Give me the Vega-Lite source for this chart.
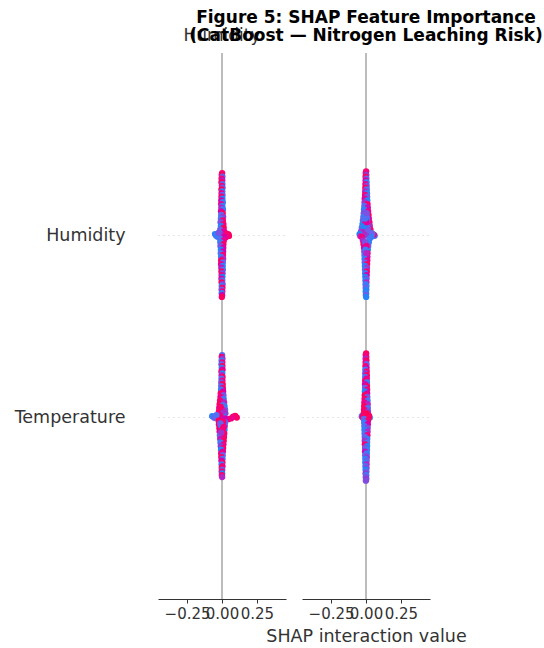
{
  "$schema": "https://vega.github.io/schema/vega-lite/v6.json",
  "padding": {"left": 14, "top": 8, "right": 5, "bottom": 5},
  "config": {"font": "DejaVu Sans", "view": {"stroke": null}},
  "spacing": 16,
  "bounds": "flush",
  "datasets": {
    "hum": [
      {"y":1.34,"x":0.001,"v":0.92},{"y":1.33,"x":-0.002,"v":0.97},{"y":1.32,"x":0.003,"v":0.35},{"y":1.31,"x":-0.003,"v":0.88},
      {"y":1.30,"x":0.002,"v":0.62},{"y":1.29,"x":-0.004,"v":0.95},{"y":1.28,"x":0.003,"v":0.22},{"y":1.27,"x":-0.001,"v":0.86},
      {"y":1.26,"x":0.004,"v":0.4},{"y":1.25,"x":-0.004,"v":0.98},{"y":1.24,"x":0.002,"v":0.12},{"y":1.23,"x":-0.003,"v":0.78},
      {"y":1.22,"x":0.004,"v":0.3},{"y":1.21,"x":-0.004,"v":0.91},{"y":1.20,"x":0.003,"v":0.06},{"y":1.19,"x":-0.005,"v":0.68},
      {"y":1.18,"x":0.006,"v":0.16},{"y":1.17,"x":-0.006,"v":0.83},{"y":1.16,"x":0.003,"v":0.09},{"y":1.15,"x":-0.005,"v":0.57},
      {"y":1.14,"x":0.007,"v":0.14},{"y":1.13,"x":-0.007,"v":0.72},{"y":1.12,"x":0.005,"v":0.96},{"y":1.11,"x":-0.006,"v":0.26},
      {"y":1.10,"x":0.008,"v":0.52},{"y":1.09,"x":-0.008,"v":0.19},{"y":1.08,"x":0.006,"v":0.9},{"y":1.07,"x":-0.01,"v":0.42},
      {"y":1.06,"x":0.01,"v":0.87},{"y":1.05,"x":-0.008,"v":0.08},{"y":1.04,"x":0.012,"v":0.94},{"y":1.03,"x":-0.013,"v":0.32},
      {"y":1.02,"x":0.015,"v":0.77},{"y":1.01,"x":-0.016,"v":0.18},{"y":1.00,"x":0.002,"v":0.6},
      {"y":1.005,"x":-0.05,"v":0.05},{"y":0.997,"x":-0.043,"v":0.15},{"y":1.003,"x":0.046,"v":0.98},{"y":0.995,"x":0.05,"v":0.95},
      {"y":1.008,"x":0.034,"v":0.9},{"y":0.99,"x":-0.032,"v":0.1},{"y":1.012,"x":-0.025,"v":0.4},{"y":0.988,"x":0.028,"v":0.85},
      {"y":0.99,"x":0.016,"v":0.7},{"y":0.98,"x":-0.014,"v":0.23},{"y":0.97,"x":0.013,"v":0.81},{"y":0.96,"x":-0.012,"v":0.13},
      {"y":0.95,"x":0.01,"v":0.93},{"y":0.94,"x":-0.011,"v":0.37},{"y":0.93,"x":0.009,"v":0.74},{"y":0.92,"x":-0.008,"v":0.05},
      {"y":0.91,"x":0.008,"v":0.66},{"y":0.90,"x":-0.009,"v":0.21},{"y":0.89,"x":0.007,"v":0.89},{"y":0.88,"x":-0.007,"v":0.11},
      {"y":0.87,"x":0.008,"v":0.58},{"y":0.86,"x":-0.006,"v":0.97},{"y":0.85,"x":0.006,"v":0.29},{"y":0.84,"x":-0.007,"v":0.8},
      {"y":0.83,"x":0.005,"v":0.07},{"y":0.82,"x":-0.005,"v":0.64},{"y":0.81,"x":0.006,"v":0.17},{"y":0.80,"x":-0.004,"v":0.92},
      {"y":0.79,"x":0.004,"v":0.44},{"y":0.78,"x":-0.003,"v":0.85},{"y":0.77,"x":0.003,"v":0.03},{"y":0.76,"x":-0.004,"v":0.71},
      {"y":0.75,"x":0.002,"v":0.24},{"y":0.74,"x":-0.003,"v":0.96},{"y":0.73,"x":0.004,"v":0.48},{"y":0.72,"x":-0.002,"v":0.13},
      {"y":0.71,"x":0.003,"v":0.9},{"y":0.70,"x":-0.003,"v":0.36},{"y":0.69,"x":0.002,"v":0.82},{"y":0.68,"x":-0.002,"v":0.1},
      {"y":0.67,"x":0.001,"v":0.67},{"y":0.66,"x":-0.001,"v":0.94},

      {"y":0.34,"x":0.001,"v":0.2},{"y":0.33,"x":-0.002,"v":0.9},{"y":0.32,"x":0.003,"v":0.55},{"y":0.31,"x":-0.003,"v":0.15},
      {"y":0.30,"x":0.002,"v":0.85},{"y":0.29,"x":-0.004,"v":0.35},{"y":0.28,"x":0.003,"v":0.95},{"y":0.27,"x":-0.002,"v":0.1},
      {"y":0.26,"x":0.004,"v":0.72},{"y":0.25,"x":-0.004,"v":0.88},{"y":0.24,"x":0.002,"v":0.05},{"y":0.23,"x":-0.003,"v":0.6},
      {"y":0.22,"x":0.004,"v":0.92},{"y":0.21,"x":-0.004,"v":0.25},{"y":0.20,"x":0.003,"v":0.8},{"y":0.19,"x":-0.005,"v":0.45},
      {"y":0.18,"x":0.005,"v":0.98},{"y":0.17,"x":-0.006,"v":0.3},{"y":0.16,"x":0.006,"v":0.86},{"y":0.15,"x":-0.007,"v":0.12},
      {"y":0.14,"x":0.008,"v":0.7},{"y":0.13,"x":-0.009,"v":0.93},{"y":0.12,"x":0.01,"v":0.4},{"y":0.11,"x":-0.011,"v":0.82},
      {"y":0.10,"x":0.012,"v":0.18},{"y":0.09,"x":-0.014,"v":0.9},{"y":0.08,"x":0.015,"v":0.6},{"y":0.07,"x":-0.017,"v":0.95},
      {"y":0.06,"x":0.018,"v":0.08},{"y":0.05,"x":-0.02,"v":0.76},{"y":0.04,"x":0.022,"v":0.33},{"y":0.03,"x":-0.022,"v":0.91},
      {"y":0.02,"x":0.024,"v":0.5},{"y":0.01,"x":-0.025,"v":0.87},{"y":0.00,"x":0.003,"v":0.65},
      {"y":0.065,"x":0.006,"v":0.22},{"y":0.045,"x":-0.006,"v":0.97},{"y":0.025,"x":0.01,"v":0.14},{"y":0.015,"x":-0.012,"v":0.84},
      {"y":0.035,"x":0.012,"v":0.58},{"y":0.055,"x":-0.01,"v":0.92},
      {"y":0.004,"x":-0.07,"v":0.08},{"y":-0.004,"x":-0.055,"v":0.3},{"y":0.006,"x":0.095,"v":0.96},{"y":-0.003,"x":0.106,"v":0.92},
      {"y":0.002,"x":0.08,"v":0.88},{"y":-0.008,"x":0.065,"v":0.8},{"y":0.01,"x":-0.04,"v":0.2},{"y":-0.012,"x":0.045,"v":0.9},
      {"y":-0.01,"x":0.024,"v":0.7},{"y":-0.02,"x":-0.024,"v":0.95},{"y":-0.03,"x":0.022,"v":0.2},{"y":-0.04,"x":-0.022,"v":0.85},
      {"y":-0.05,"x":0.02,"v":0.42},{"y":-0.06,"x":-0.019,"v":0.9},{"y":-0.07,"x":0.018,"v":0.1},{"y":-0.08,"x":-0.017,"v":0.78},
      {"y":-0.09,"x":0.016,"v":0.93},{"y":-0.10,"x":-0.015,"v":0.27},{"y":-0.11,"x":0.014,"v":0.88},{"y":-0.12,"x":-0.013,"v":0.62},
      {"y":-0.13,"x":0.012,"v":0.97},{"y":-0.14,"x":-0.011,"v":0.15},{"y":-0.15,"x":0.01,"v":0.82},{"y":-0.16,"x":-0.009,"v":0.5},
      {"y":-0.17,"x":0.008,"v":0.91},{"y":-0.18,"x":-0.007,"v":0.06},{"y":-0.19,"x":0.006,"v":0.74},{"y":-0.20,"x":-0.006,"v":0.86},
      {"y":-0.21,"x":0.005,"v":0.35},{"y":-0.22,"x":-0.005,"v":0.94},{"y":-0.23,"x":0.004,"v":0.2},{"y":-0.24,"x":-0.004,"v":0.68},
      {"y":-0.25,"x":0.003,"v":0.9},{"y":-0.26,"x":-0.003,"v":0.12},{"y":-0.27,"x":0.003,"v":0.8},{"y":-0.28,"x":-0.002,"v":0.96},
      {"y":-0.29,"x":0.002,"v":0.4},{"y":-0.30,"x":-0.002,"v":0.87},{"y":-0.31,"x":0.001,"v":0.05},{"y":-0.32,"x":-0.001,"v":0.92},
      {"y":-0.33,"x":0.001,"v":0.6},
      {"y":-0.025,"x":0.008,"v":0.9},{"y":-0.045,"x":-0.008,"v":0.18},{"y":-0.065,"x":0.006,"v":0.94},{"y":-0.085,"x":-0.005,"v":0.55},
      {"y":-0.035,"x":-0.012,"v":0.3},{"y":-0.055,"x":0.012,"v":0.86}
    ],
    "temp": [
      {"y":1.35,"x":0.001,"v":0.9},{"y":1.34,"x":-0.002,"v":0.85},{"y":1.33,"x":0.002,"v":0.5},{"y":1.32,"x":-0.003,"v":0.95},
      {"y":1.31,"x":0.003,"v":0.3},{"y":1.30,"x":-0.003,"v":0.7},{"y":1.29,"x":0.004,"v":0.15},{"y":1.28,"x":-0.004,"v":0.8},
      {"y":1.27,"x":0.005,"v":0.45},{"y":1.26,"x":-0.005,"v":0.92},{"y":1.25,"x":0.006,"v":0.2},{"y":1.24,"x":-0.006,"v":0.6},
      {"y":1.23,"x":0.007,"v":0.1},{"y":1.22,"x":-0.007,"v":0.88},{"y":1.21,"x":0.008,"v":0.35},{"y":1.20,"x":-0.009,"v":0.75},
      {"y":1.19,"x":0.009,"v":0.05},{"y":1.18,"x":-0.01,"v":0.55},{"y":1.17,"x":0.011,"v":0.9},{"y":1.16,"x":-0.012,"v":0.25},
      {"y":1.15,"x":0.013,"v":0.65},{"y":1.14,"x":-0.014,"v":0.12},{"y":1.13,"x":0.015,"v":0.82},{"y":1.12,"x":-0.016,"v":0.4},
      {"y":1.11,"x":0.018,"v":0.95},{"y":1.10,"x":-0.019,"v":0.18},{"y":1.09,"x":0.02,"v":0.7},{"y":1.08,"x":-0.022,"v":0.3},
      {"y":1.07,"x":0.024,"v":0.87},{"y":1.06,"x":-0.025,"v":0.08},{"y":1.05,"x":0.027,"v":0.6},{"y":1.04,"x":-0.03,"v":0.22},
      {"y":1.03,"x":0.032,"v":0.9},{"y":1.02,"x":-0.035,"v":0.45},{"y":1.01,"x":0.038,"v":0.1},{"y":1.00,"x":0.002,"v":0.5},
      {"y":1.10,"x":0.006,"v":0.3},{"y":1.08,"x":0.008,"v":0.1},{"y":1.06,"x":-0.008,"v":0.9},{"y":1.04,"x":0.01,"v":0.15},
      {"y":1.02,"x":-0.012,"v":0.6},{"y":1.03,"x":0.014,"v":0.35},{"y":1.05,"x":-0.015,"v":0.05},{"y":1.07,"x":0.004,"v":0.75},
      {"y":1.09,"x":-0.006,"v":0.2},{"y":1.12,"x":0.005,"v":0.4},
      {"y":1.005,"x":-0.046,"v":0.05},{"y":0.996,"x":0.062,"v":0.2},{"y":1.002,"x":0.055,"v":0.92},{"y":0.993,"x":-0.04,"v":0.6},
      {"y":1.008,"x":0.045,"v":0.3},{"y":0.99,"x":0.04,"v":0.12},
      {"y":0.99,"x":-0.03,"v":0.85},{"y":0.98,"x":0.026,"v":0.15},{"y":0.97,"x":-0.022,"v":0.6},{"y":0.96,"x":0.02,"v":0.1},
      {"y":0.95,"x":-0.018,"v":0.92},{"y":0.94,"x":0.016,"v":0.3},{"y":0.93,"x":-0.014,"v":0.7},{"y":0.92,"x":0.013,"v":0.05},
      {"y":0.91,"x":-0.012,"v":0.5},{"y":0.90,"x":0.011,"v":0.88},{"y":0.89,"x":-0.011,"v":0.2},{"y":0.88,"x":0.01,"v":0.65},
      {"y":0.87,"x":-0.01,"v":0.12},{"y":0.86,"x":0.009,"v":0.8},{"y":0.85,"x":-0.009,"v":0.35},{"y":0.84,"x":0.008,"v":0.95},
      {"y":0.83,"x":-0.008,"v":0.08},{"y":0.82,"x":0.007,"v":0.55},{"y":0.81,"x":-0.007,"v":0.25},{"y":0.80,"x":0.006,"v":0.9},
      {"y":0.79,"x":-0.006,"v":0.15},{"y":0.78,"x":0.005,"v":0.7},{"y":0.77,"x":-0.005,"v":0.05},{"y":0.76,"x":0.004,"v":0.42},
      {"y":0.75,"x":-0.004,"v":0.1},{"y":0.74,"x":0.003,"v":0.6},{"y":0.73,"x":-0.003,"v":0.2},{"y":0.72,"x":0.003,"v":0.08},
      {"y":0.71,"x":-0.002,"v":0.3},{"y":0.70,"x":0.002,"v":0.1},{"y":0.69,"x":-0.002,"v":0.04},{"y":0.68,"x":0.001,"v":0.12},
      {"y":0.67,"x":-0.001,"v":0.35},{"y":0.66,"x":0.001,"v":0.06},
      {"y":0.96,"x":-0.006,"v":0.4},{"y":0.94,"x":0.004,"v":0.8},{"y":0.92,"x":-0.004,"v":0.15},{"y":0.90,"x":0.003,"v":0.6},

      {"y":0.35,"x":0.001,"v":0.95},{"y":0.34,"x":-0.002,"v":0.9},{"y":0.33,"x":0.002,"v":0.85},{"y":0.32,"x":-0.003,"v":0.6},
      {"y":0.31,"x":0.003,"v":0.98},{"y":0.30,"x":-0.003,"v":0.8},{"y":0.29,"x":0.004,"v":0.3},{"y":0.28,"x":-0.004,"v":0.92},
      {"y":0.27,"x":0.004,"v":0.7},{"y":0.26,"x":-0.005,"v":0.15},{"y":0.25,"x":0.005,"v":0.88},{"y":0.24,"x":-0.005,"v":0.5},
      {"y":0.23,"x":0.006,"v":0.95},{"y":0.22,"x":-0.006,"v":0.2},{"y":0.21,"x":0.006,"v":0.78},{"y":0.20,"x":-0.006,"v":0.9},
      {"y":0.19,"x":0.007,"v":0.1},{"y":0.18,"x":-0.007,"v":0.65},{"y":0.17,"x":0.007,"v":0.93},{"y":0.16,"x":-0.007,"v":0.3},
      {"y":0.15,"x":0.008,"v":0.85},{"y":0.14,"x":-0.008,"v":0.05},{"y":0.13,"x":0.008,"v":0.72},{"y":0.12,"x":-0.009,"v":0.96},
      {"y":0.11,"x":0.009,"v":0.4},{"y":0.10,"x":-0.01,"v":0.9},{"y":0.09,"x":0.011,"v":0.15},{"y":0.08,"x":-0.012,"v":0.82},
      {"y":0.07,"x":0.012,"v":0.6},{"y":0.06,"x":-0.013,"v":0.97},{"y":0.05,"x":0.013,"v":0.25},{"y":0.04,"x":-0.014,"v":0.9},
      {"y":0.03,"x":0.014,"v":0.5},{"y":0.02,"x":-0.016,"v":0.94},{"y":0.01,"x":0.016,"v":0.1},{"y":0.00,"x":0.002,"v":0.7},
      {"y":0.004,"x":-0.03,"v":0.2},{"y":-0.004,"x":0.027,"v":0.1},{"y":0.006,"x":0.022,"v":0.95},{"y":-0.002,"x":-0.025,"v":0.9},
      {"y":0.008,"x":-0.02,"v":0.85},{"y":-0.006,"x":0.018,"v":0.99},{"y":-0.01,"x":-0.016,"v":0.92},{"y":0.012,"x":0.015,"v":0.88},
      {"y":-0.015,"x":0.012,"v":0.97},{"y":0.016,"x":-0.01,"v":0.9},{"y":-0.02,"x":-0.005,"v":0.93},{"y":0.02,"x":0.004,"v":0.98},
      {"y":-0.01,"x":-0.015,"v":0.3},{"y":-0.02,"x":0.014,"v":0.9},{"y":-0.03,"x":-0.013,"v":0.12},{"y":-0.04,"x":0.013,"v":0.7},
      {"y":-0.05,"x":-0.012,"v":0.2},{"y":-0.06,"x":0.012,"v":0.45},{"y":-0.07,"x":-0.011,"v":0.08},{"y":-0.08,"x":0.011,"v":0.6},
      {"y":-0.09,"x":-0.01,"v":0.18},{"y":-0.10,"x":0.01,"v":0.85},{"y":-0.11,"x":-0.009,"v":0.3},{"y":-0.12,"x":0.009,"v":0.1},
      {"y":-0.13,"x":-0.009,"v":0.55},{"y":-0.14,"x":0.008,"v":0.22},{"y":-0.15,"x":-0.008,"v":0.9},{"y":-0.16,"x":0.008,"v":0.05},
      {"y":-0.17,"x":-0.007,"v":0.4},{"y":-0.18,"x":0.007,"v":0.15},{"y":-0.19,"x":-0.007,"v":0.65},{"y":-0.20,"x":0.006,"v":0.1},
      {"y":-0.21,"x":-0.006,"v":0.3},{"y":-0.22,"x":0.006,"v":0.5},{"y":-0.23,"x":-0.005,"v":0.08},{"y":-0.24,"x":0.005,"v":0.35},
      {"y":-0.25,"x":-0.005,"v":0.12},{"y":-0.26,"x":0.004,"v":0.6},{"y":-0.27,"x":-0.004,"v":0.2},{"y":-0.28,"x":0.004,"v":0.45},
      {"y":-0.29,"x":-0.003,"v":0.05},{"y":-0.30,"x":0.003,"v":0.3},{"y":-0.31,"x":-0.003,"v":0.5},{"y":-0.32,"x":0.002,"v":0.15},
      {"y":-0.33,"x":-0.002,"v":0.4},{"y":-0.34,"x":0.002,"v":0.5},{"y":-0.35,"x":-0.001,"v":0.45}
    ]
  },
  "hconcat": [
    {
      "width": 128,
      "height": 546,
      "title": {"text": "Humidity", "fontSize": 17, "fontWeight": "normal", "color": "#333333", "offset": -6, "baseline": "alphabetic"},
      "layer": [
        {
          "data": {"values": [{}]},
          "mark": {"type": "rule", "color": "#999999", "strokeWidth": 1.3},
          "encoding": {"x": {"datum": 0, "type": "quantitative"}}
        },
        {
          "data": {"name": "hum"},
          "mark": {"type": "circle", "size": 40, "opacity": 1},
          "encoding": {
            "x": {
              "field": "x", "type": "quantitative",
              "scale": {"domain": [-0.458, 0.458], "nice": false, "zero": false},
              "axis": {"values": [-0.25, 0, 0.25], "format": ".2f", "title": null, "grid": false,
                       "labelFontSize": 15, "labelColor": "#333333", "labelPadding": 3, "labelOverlap": false, "labelFlush": false,
                       "domainColor": "#333333", "tickColor": "#333333", "tickSize": 4}
            },
            "y": {
              "field": "y", "type": "quantitative",
              "scale": {"domain": [-1, 2], "nice": false, "zero": false},
              "axis": {"values": [0, 1], "labelExpr": "datum.value == 1 ? 'Humidity' : 'Temperature'", "title": null,
                       "domain": false, "ticks": false, "labelFontSize": 17.5, "labelColor": "#333333", "labelPadding": 33,
                       "grid": true, "gridColor": "#cccccc", "gridDash": [1, 4], "gridWidth": 1}
            },
            "color": {
              "field": "v", "type": "quantitative",
              "scale": {"domain": [0, 0.5, 1], "range": ["#008bfb", "#8a3fd6", "#ff0052"]},
              "legend": null
            }
          }
        }
      ]
    },
    {
      "width": 128,
      "height": 546,
      "title": {"text": ["Figure 5: SHAP Feature Importance", "(CatBoost — Nitrogen Leaching Risk)"], "fontSize": 17, "fontWeight": "bold", "color": "#000000", "lineHeight": 18.5, "offset": -6, "baseline": "alphabetic"},
      "layer": [
        {
          "data": {"values": [{}]},
          "mark": {"type": "rule", "color": "#999999", "strokeWidth": 1.3},
          "encoding": {"x": {"datum": 0, "type": "quantitative"}}
        },
        {
          "data": {"name": "temp"},
          "mark": {"type": "circle", "size": 40, "opacity": 1},
          "encoding": {
            "x": {
              "field": "x", "type": "quantitative",
              "scale": {"domain": [-0.458, 0.458], "nice": false, "zero": false},
              "axis": {"values": [-0.25, 0, 0.25], "format": ".2f", "title": "SHAP interaction value", "grid": false,
                       "titleFontSize": 17.5, "titleFontWeight": "normal", "titleColor": "#333333", "titlePadding": 6,
                       "labelFontSize": 15, "labelColor": "#333333", "labelPadding": 3, "labelOverlap": false, "labelFlush": false,
                       "domainColor": "#333333", "tickColor": "#333333", "tickSize": 4}
            },
            "y": {
              "field": "y", "type": "quantitative",
              "scale": {"domain": [-1, 2], "nice": false, "zero": false},
              "axis": {"values": [0, 1], "labels": false, "title": null, "domain": false, "ticks": false,
                       "grid": true, "gridColor": "#cccccc", "gridDash": [1, 4], "gridWidth": 1}
            },
            "color": {
              "field": "v", "type": "quantitative",
              "scale": {"domain": [0, 0.5, 1], "range": ["#008bfb", "#8a3fd6", "#ff0052"]},
              "legend": null
            }
          }
        }
      ]
    }
  ]
}
